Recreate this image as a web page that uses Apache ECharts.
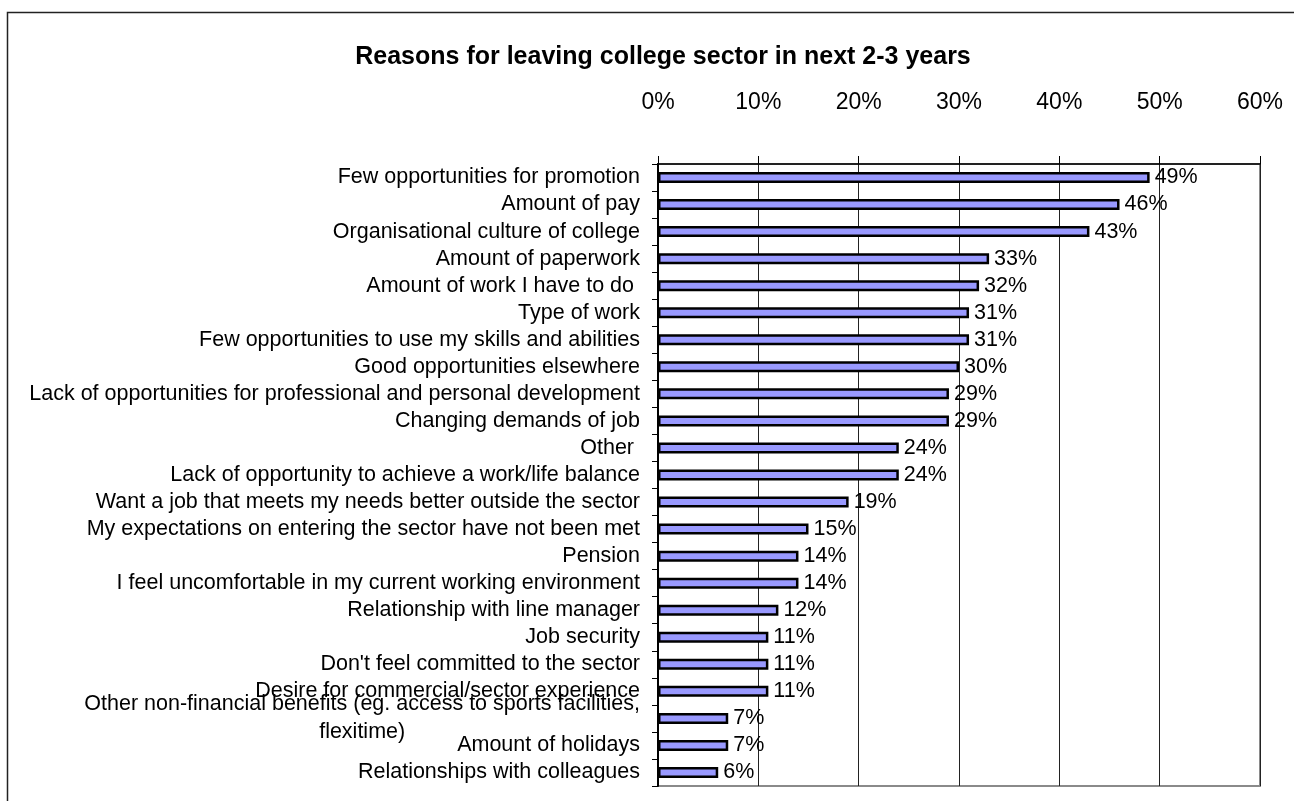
<!DOCTYPE html>
<html>
<head>
<meta charset="utf-8">
<script src="https://cdn.jsdelivr.net/npm/echarts@6/dist/echarts.min.js"></script>
<style>
  html, body { margin: 0; padding: 0; background: #fff; }
  #chart { width: 1294px; height: 801px; }
</style>
</head>
<body>
<div id="chart"></div>
<script>
const reasons = [
  'Few opportunities for promotion',
  'Amount of pay',
  'Organisational culture of college',
  'Amount of paperwork',
  'Amount of work I have to do ',
  'Type of work',
  'Few opportunities to use my skills and abilities',
  'Good opportunities elsewhere',
  'Lack of opportunities for professional and personal development',
  'Changing demands of job',
  'Other ',
  'Lack of opportunity to achieve a work/life balance',
  'Want a job that meets my needs better outside the sector',
  'My expectations on entering the sector have not been met',
  'Pension',
  'I feel uncomfortable in my current working environment',
  'Relationship with line manager',
  'Job security',
  "Don't feel committed to the sector",
  'Desire for commercial/sector experience',
  'Other non-financial benefits (eg. access to sports facilities,\nflexitime)',
  'Amount of holidays',
  'Relationships with colleagues'
]
const percents = [49, 46, 43, 33, 32, 31, 31, 30, 29, 29, 24, 24, 19, 15, 14, 14, 12, 11, 11, 11, 7, 7, 6]
const xTicks = [0, 10, 20, 30, 40, 50, 60]

const font = 'Liberation Sans, Arial, sans-serif'
const chart = echarts.init(document.getElementById('chart'))

chart.setOption({
  animation: false,
  backgroundColor: '#fff',
  title: {
    text: 'Reasons for leaving college sector in next 2-3 years',
    left: 658,
    top: 40,
    textAlign: 'center',
    textStyle: { fontFamily: font, fontSize: 25, fontWeight: 'bold', color: '#000' }
  },
  graphic: [{
    type: 'rect',
    shape: { x: 7.5, y: 12.5, width: 1300, height: 820 },
    style: { fill: 'none', stroke: '#222', lineWidth: 1.5 },
    silent: true
  }],
  grid: {
    left: 658, top: 164, right: 34, bottom: 15,
    show: true, borderColor: '#8a8a8a', borderWidth: 2, backgroundColor: 'transparent'
  },
  xAxis: {
    type: 'value',
    position: 'top',
    min: xTicks[0],
    max: xTicks[xTicks.length - 1],
    interval: 10,
    axisLine: { show: true, lineStyle: { color: '#000', width: 1.5 } },
    axisTick: { show: true, inside: false, length: 8, lineStyle: { color: '#000' } },
    axisLabel: {
      formatter: v => v + '%',
      margin: 50,
      fontFamily: font, fontSize: 23, color: '#000'
    },
    splitLine: { show: true, lineStyle: { color: '#222', width: 1 } }
  },
  yAxis: {
    type: 'category',
    inverse: true,
    data: reasons,
    axisLine: { show: true, lineStyle: { color: '#000', width: 2 } },
    axisTick: { show: true, length: 6, lineStyle: { color: '#000' } },
    axisLabel: {
      interval: 0,
      margin: 18,
      fontFamily: font, fontSize: 21.5, color: '#000',
      formatter: function (v) {
        if (v.indexOf('\n') < 0) return v
        const parts = v.split('\n')
        return '{a|' + parts[0] + '}\n{b|' + parts[1] + '}'
      },
      rich: {
        a: { fontFamily: font, fontSize: 21.5, color: '#000', align: 'right', lineHeight: 28 },
        b: { fontFamily: font, fontSize: 21.5, color: '#000', align: 'center', lineHeight: 28 }
      }
    }
  },
  series: [{
    type: 'bar',
    data: percents,
    barWidth: 11,
    itemStyle: { color: '#9999ff', borderColor: '#000', borderWidth: 2.5 },
    label: {
      show: true,
      position: 'right',
      distance: 5,
      formatter: p => p.value + '%',
      fontFamily: font, fontSize: 21.5, color: '#000'
    }
  }]
})
</script>
</body>
</html>
